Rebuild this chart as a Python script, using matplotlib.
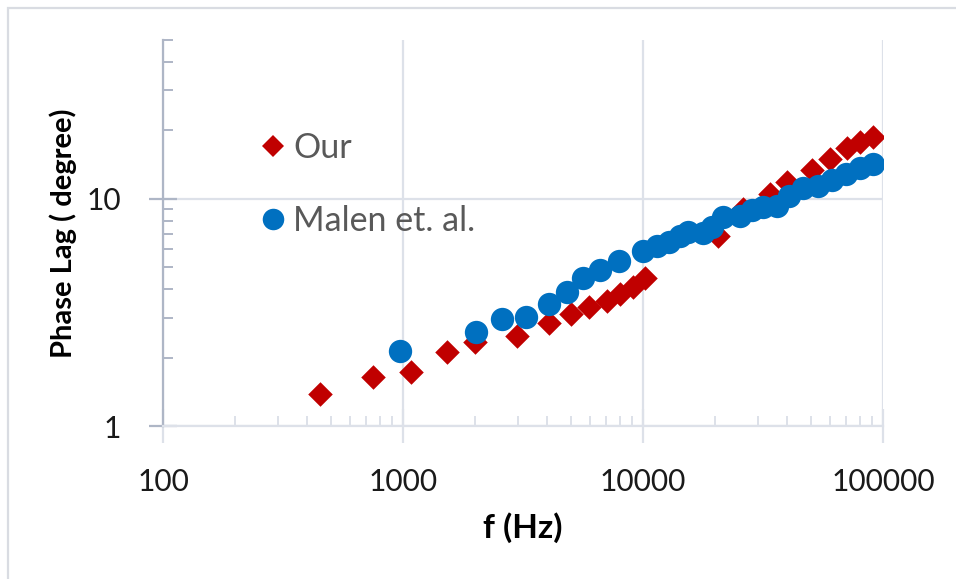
import matplotlib
matplotlib.use("Agg")
import matplotlib.pyplot as plt
from matplotlib.lines import Line2D
from matplotlib.patches import Rectangle
from matplotlib.ticker import FixedLocator, NullFormatter

# Phase lag vs. modulation frequency
our_f = [450, 750, 1080, 1520, 2000, 2980, 4050, 5000, 5970, 7070, 8020, 9120, 10190,
         20600, 26200, 33800, 39700, 50500, 60100, 70600, 80200, 91200]
our_lag = [1.38, 1.65, 1.72, 2.11, 2.35, 2.50, 2.83, 3.12, 3.33, 3.55, 3.80, 4.11, 4.50,
           6.88, 9.03, 10.5, 11.86, 13.35, 15.03, 16.65, 17.82, 18.75]

malen_f = [972, 2010, 2577, 3254, 4074, 4840, 5640, 6620, 7960, 10030, 11400, 12880,
           14270, 15450, 17830, 19320, 21480, 25350, 28380, 31700, 36060, 40700,
           46600, 53500, 61100, 70100, 80100, 90600]
malen_lag = [2.13, 2.59, 2.97, 3.01, 3.43, 3.87, 4.46, 4.87, 5.33, 5.91, 6.21, 6.43,
             6.88, 7.17, 7.05, 7.50, 8.30, 8.38, 8.94, 9.19, 9.29, 10.24,
             11.15, 11.38, 12.13, 12.90, 13.68, 14.28]

x_ticks = [100, 1000, 10000, 100000]
x_tick_labels = ["100", "1000", "10000", "100000"]
y_ticks = [1, 10]
y_tick_labels = ["1", "10"]

RED = "#c00000"
BLUE = "#0070c0"
AXIS_DARK = "#aeb6c6"
GRID = "#dde1e9"

plt.rcParams["font.family"] = ["Lato", "DejaVu Sans"]

W, H = 956, 579
fig = plt.figure(figsize=(W / 100, H / 100), dpi=100)
fig.patch.set_facecolor("white")

# chart area frame
fig.patches.append(Rectangle((8 / W, -0.1), 1.2, 1 - 8 / H + 0.1, transform=fig.transFigure,
                             fill=False, edgecolor="#d9dce2", linewidth=1.6))

ax = fig.add_axes([163 / W, 1 - 426 / H, 720 / W, 386 / H])
ax.set_xscale("log")
ax.set_yscale("log")
ax.set_xlim(100, 100000)
ax.set_ylim(1, 50)

ax.scatter(our_f, our_lag, marker="D", s=12.5 ** 2, color=RED, linewidths=0, zorder=3,
           label="Our")
ax.scatter(malen_f, malen_lag, marker="o", s=16.8 ** 2, color=BLUE, linewidths=0, zorder=4,
           label="Malen et. al.")

for side in ("top", "right"):
    ax.spines[side].set_visible(False)
ax.spines["left"].set_color(AXIS_DARK)
ax.spines["left"].set_linewidth(1.6)
ax.spines["bottom"].set_color(GRID)
ax.spines["bottom"].set_linewidth(1.6)

ax.xaxis.set_major_locator(FixedLocator(x_ticks))
ax.set_xticklabels(x_tick_labels)
ax.yaxis.set_major_locator(FixedLocator(y_ticks))
ax.set_yticklabels(y_tick_labels)

x_minor = [m * 10 ** e for e in range(2, 5) for m in range(2, 10)]
y_minor = [m for m in range(2, 10)] + [20, 30, 40, 50]
ax.xaxis.set_minor_locator(FixedLocator(x_minor))
ax.yaxis.set_minor_locator(FixedLocator(y_minor))
ax.xaxis.set_minor_formatter(NullFormatter())
ax.yaxis.set_minor_formatter(NullFormatter())

ax.grid(True, which="major", color=GRID, linewidth=1.6, zorder=0)
ax.set_axisbelow(True)

ax.tick_params(axis="x", which="major", direction="inout", length=24, width=1.6,
               color=GRID, labelsize=21.5, labelcolor="#1a1a1a", pad=18)
ax.tick_params(axis="x", which="minor", direction="in", length=7, width=1.4, color=GRID)
ax.tick_params(axis="y", which="major", direction="inout", length=20, width=1.6,
               color=AXIS_DARK, labelsize=21.5, labelcolor="#1a1a1a", pad=20)
ax.tick_params(axis="y", which="minor", direction="in", length=7, width=1.4,
               color=AXIS_DARK)

ax.set_xlabel("f (Hz)", fontsize=24, fontweight="bold", color="black", labelpad=12)
ax.set_ylabel("Phase Lag ( degree)", fontsize=21, fontweight="bold", color="black",
              labelpad=7)

handles = [
    Line2D([], [], linestyle="none", marker="D", markersize=10.8, color=RED,
           markeredgewidth=0),
    Line2D([], [], linestyle="none", marker="o", markersize=15.5, color=BLUE,
           markeredgewidth=0),
]
ax.legend(handles, ["Our", "Malen et. al."], loc="upper left",
          bbox_to_anchor=(0.115, 0.805), frameon=False, fontsize=24.5,
          labelcolor="#595959", handlelength=0.6, handletextpad=0.3,
          labelspacing=1.2, borderpad=0)

fig.savefig("out.png", dpi=100, facecolor="white")
